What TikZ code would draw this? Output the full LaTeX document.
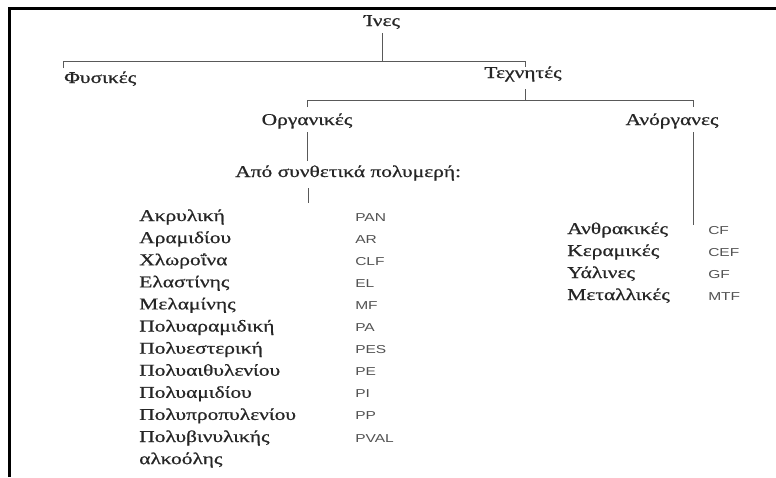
\documentclass[tikz,border=0pt]{standalone}
\usepackage{fontspec}
\setmainfont{Liberation Serif}[FakeBold=0.6]
\newfontfamily\codefont{Liberation Sans}
\begin{document}
\begin{tikzpicture}[x=1pt,y=-1pt,
  lbl/.style={inner sep=0pt, anchor=base, font=\fontsize{16.5}{18}\selectfont, xscale=1.3, text=black!85},
  lft/.style={lbl, anchor=base west},
  code/.style={inner sep=0pt, anchor=base west, font=\codefont\fontsize{11.5}{13}\selectfont, xscale=1.35, text=black!68},
  tree/.style={draw=black!65, line width=0.9pt},
  frame/.style={draw=black, line width=3pt}]
\useasboundingbox (0,0) rectangle (776,477);
\fill[white] (0,0) rectangle (776,477);
% frame
\draw[frame] (9,477) -- (9,8) -- (776,8);

% header nodes
\node[lbl] (ines) at (382,26) {Ίνες};
\node[lft] (fysikes) at (64,83) {Φυσικές};
\node[lbl] (techn) at (523,78) {Τεχνητές};
\node[lbl] (organ) at (307,125) {Οργανικές};
\node[lbl] (anorg) at (672,125) {Ανόργανες};
\node[lft] (apo) at (235,177) {Από συνθετικά πολυμερή:};

% junction coordinates
\coordinate (a0) at (382,33);
\coordinate (a1) at (382,61);
\coordinate (aL) at (63,61);
\coordinate (aLd) at (63,68);
\coordinate (aR) at (525,61);
\coordinate (aRd) at (525,67);
\coordinate (b0) at (525,89);
\coordinate (b1) at (525,100);
\coordinate (bL) at (307,100);
\coordinate (bLd) at (307,107);
\coordinate (bR) at (693,100);
\coordinate (bRd) at (693,107);
\coordinate (c0) at (307,132);
\coordinate (c1) at (307,161);
\coordinate (d0) at (308,188);
\coordinate (d1) at (308,203);
\coordinate (e0) at (693,132);
\coordinate (e1) at (693,225);

\draw[tree] (a0) -- (a1);
\draw[tree] (aLd) -- (aL) -- (aR) -- (aRd);
\draw[tree] (b0) -- (b1);
\draw[tree] (bLd) -- (bL) -- (bR) -- (bRd);
\draw[tree] (c0) -- (c1);
\draw[tree] (d0) -- (d1);
\draw[tree] (e0) -- (e1);

% organic list
\foreach \t/\c [count=\i from 0] in {Ακρυλική/PAN, Αραμιδίου/AR, Χλωροΐνα/CLF, Ελαστίνης/EL, Μελαμίνης/MF, Πολυαραμιδική/PA, Πολυεστερική/PES, Πολυαιθυλενίου/PE, Πολυαμιδίου/PI, Πολυπροπυλενίου/PP, Πολυβινυλικής/PVAL}{
  \node[lft] (o\i) at (139,221+22.1*\i) {\t};
  \node[code] (oc\i) at (355,221+22.1*\i) {\c};
}
\node[lft] (o11) at (139,221+22.1*11) {αλκοόλης};

% inorganic list
\foreach \t/\c [count=\i from 0] in {Ανθρακικές/CF, Κεραμικές/CEF, Υάλινες/GF, Μεταλλικές/MTF}{
  \node[lft] (r\i) at (567,234+22*\i) {\t};
  \node[code] (rc\i) at (708,234+22*\i) {\c};
}
\end{tikzpicture}
\end{document}
